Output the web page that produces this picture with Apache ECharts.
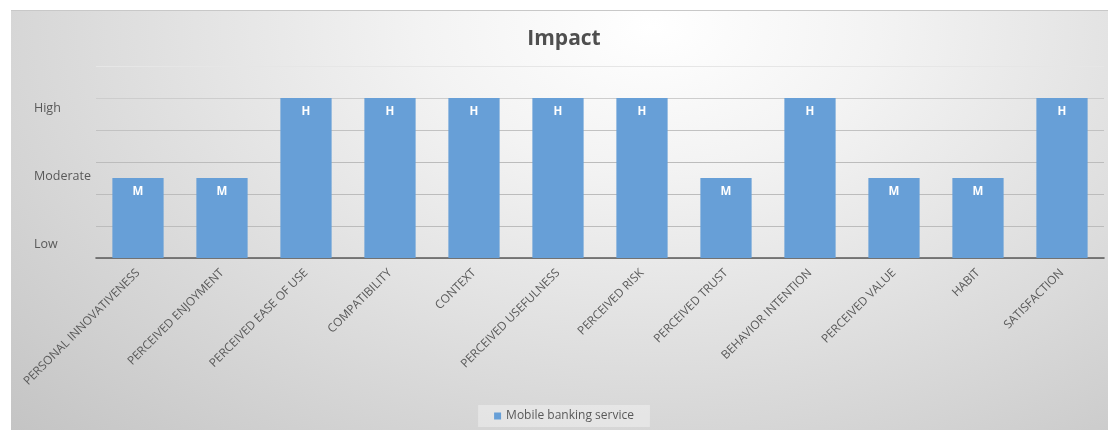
<!DOCTYPE html>
<html>
<head>
<meta charset="utf-8">
<script src="https://cdn.jsdelivr.net/npm/echarts@6/dist/echarts.min.js"></script>
<style>
  html, body { margin: 0; padding: 0; background: #ffffff; overflow: hidden; width: 1108px; height: 430px; }
  #frame {
    position: absolute; left: 11px; top: 10px; width: 1106px; height: 420px;
    background: radial-gradient(ellipse farthest-corner at 58% 4%, #ffffff 0%, #f3f3f3 25%, #dddddd 60%, #c4c4c4 100%);
  }
  #frameTop { position: absolute; left: 11px; top: 10px; width: 1106px; height: 1px; background: #c8c8c8; }
  #chart { position: absolute; left: 11px; top: 10px; width: 1106px; height: 420px; }
</style>
</head>
<body>
<div id="frame"></div>
<div id="frameTop"></div>
<div id="chart"></div>
<script>
// Impact level of each factor on mobile banking service
const categories = [
  'PERSONAL INNOVATIVENESS', 'PERCEIVED ENJOYMENT', 'PERCEIVED EASE OF USE', 'COMPATIBILITY',
  'CONTEXT', 'PERCEIVED USEFULNESS', 'PERCEIVED RISK', 'PERCEIVED TRUST',
  'BEHAVIOR INTENTION', 'PERCEIVED VALUE', 'HABIT', 'SATISFACTION'
];
const impactCodes = ['M', 'M', 'H', 'H', 'H', 'H', 'H', 'M', 'H', 'M', 'M', 'H'];
const impactValues = [2.5, 2.5, 5, 5, 5, 5, 5, 2.5, 5, 2.5, 2.5, 5];
const levelLabels = ['Low', 'Moderate', 'High'];
const seriesName = 'Mobile banking service';

const FONT = '"Open Sans", "DejaVu Sans", sans-serif';
const TEXT = '#595959';
const levelTicks = [0.42, 2.54, 4.67];

const chart = echarts.init(document.getElementById('chart'), null, { renderer: 'canvas' });
chart.setOption({
  backgroundColor: 'transparent',
  animation: false,
  textStyle: { fontFamily: FONT },
  title: {
    text: 'Impact',
    left: 'center',
    top: 14,
    textStyle: { fontFamily: FONT, fontSize: 21, fontWeight: 'bold', color: '#4f4f4f' }
  },
  legend: {
    data: [seriesName],
    bottom: 3,
    left: 'center',
    icon: 'rect',
    itemWidth: 7,
    itemHeight: 7,
    itemGap: 5,
    padding: [5, 16, 5, 16],
    backgroundColor: 'rgba(255,255,255,0.35)',
    textStyle: { fontFamily: FONT, fontSize: 12, color: TEXT }
  },
  grid: { left: 85, top: 56, width: 1008, height: 192, containLabel: false },
  xAxis: {
    type: 'category',
    data: categories,
    axisTick: { show: false },
    axisLine: { lineStyle: { color: '#595959', width: 1.6 } },
    axisLabel: {
      interval: 0,
      rotate: 45,
      margin: 13,
      fontFamily: FONT,
      fontSize: 11.8,
      color: TEXT
    }
  },
  yAxis: [
    {
      type: 'value',
      min: 0,
      max: 6,
      interval: 1,
      axisLine: { show: false },
      axisTick: { show: false },
      axisLabel: { show: false },
      splitLine: {
        lineStyle: {
          width: 1,
          color: ['#bcbcbc', '#bcbcbc', '#bcbcbc', '#bcbcbc', '#c2c2c2', '#cdcdcd', '#e6e6e6']
        }
      }
    },
    {
      type: 'value',
      min: 0,
      max: 6,
      position: 'left',
      axisLine: { show: false },
      axisTick: { show: false },
      splitLine: { show: false },
      axisLabel: {
        customValues: levelTicks,
        formatter: function (v) {
          let best = 0;
          levelTicks.forEach(function (t, i) {
            if (Math.abs(t - v) < Math.abs(levelTicks[best] - v)) best = i;
          });
          return levelLabels[best];
        },
        align: 'left',
        margin: 62,
        fontFamily: FONT,
        fontSize: 12.5,
        color: TEXT
      }
    }
  ],
  series: [
    {
      name: seriesName,
      type: 'bar',
      yAxisIndex: 0,
      data: impactValues,
      barCategoryGap: '39%',
      itemStyle: { color: '#679fd7' },
      label: {
        show: true,
        position: 'insideTop',
        distance: 8,
        formatter: function (p) { return impactCodes[p.dataIndex]; },
        fontFamily: FONT,
        fontSize: 11.5,
        fontWeight: 'bold',
        color: '#ffffff'
      }
    }
  ]
});
</script>
</body>
</html>
